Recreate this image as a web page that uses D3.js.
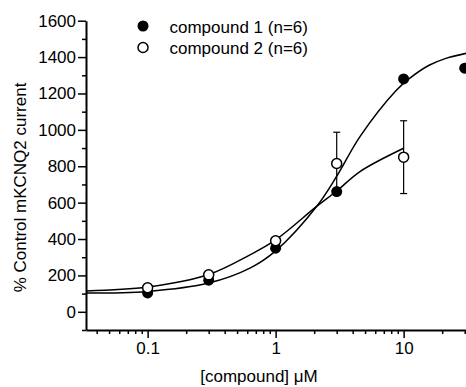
<!DOCTYPE html>
<html>
<head>
<meta charset="utf-8">
<script src="https://cdn.jsdelivr.net/npm/d3@7"></script>
<style>
  body { margin: 0; background: #fff; }
  svg { display: block; font-family: "Liberation Sans", Arial, sans-serif; }
</style>
</head>
<body>
<div id="chart"></div>
<script>
// measured points
var concentrations = [0.1, 0.3, 1, 3, 10, 30];
var compound1 = [104, 174, 350, 661, 1280, 1339];
var compound2 = [132, 203, 390, 815, 850];
var compound2Sem = [14, 14, 18, 172, 200];

// fitted curves
var fitConc1 = [0.033, 0.1, 0.3, 0.63, 1, 2.09, 3, 4.56, 8.7, 11, 15.8, 21.4, 31];
var fitCurve1 = [103, 112, 158, 240, 335, 579, 745, 963, 1215, 1280, 1355, 1393, 1421];
var fitConc2 = [0.033, 0.1, 0.3, 0.63, 1, 2.09, 3, 4.56, 10];
var fitCurve2 = [115, 136, 205, 313, 395, 579, 664, 771, 899];

var xTicks = [0.1, 1, 10];
var xTickLabels = ["0.1", "1", "10"];
var yTicks = [0, 200, 400, 600, 800, 1000, 1200, 1400, 1600];
var yMinorTicks = [-100, 100, 300, 500, 700, 900, 1100, 1300, 1500];
var legendLabels = ["compound 1 (n=6)", "compound 2 (n=6)"];

var width = 466, height = 387;
var svg = d3.select("#chart").append("svg")
    .attr("width", width)
    .attr("height", height);

var x = d3.scaleLog().domain([0.033, 33]).range([86, 470]);
var y = d3.scaleLinear().domain([-100, 1600]).range([330, 20.7]);

// minor ticks first so the major ones sit on top
var xMinor = x.ticks().filter(function(d) { return xTicks.indexOf(d) < 0; });
svg.append("g")
    .attr("transform", "translate(0,330)")
    .call(d3.axisBottom(x).tickValues(xMinor).tickSize(4).tickSizeOuter(0).tickFormat(""))
    .call(function(g) { g.select(".domain").remove(); });
svg.append("g")
    .attr("transform", "translate(86,0)")
    .call(d3.axisLeft(y).tickValues(yMinorTicks).tickSize(4).tickSizeOuter(0).tickFormat(""))
    .call(function(g) { g.select(".domain").remove(); });

svg.append("g")
    .attr("transform", "translate(0,330)")
    .call(d3.axisBottom(x).tickValues(xTicks).tickSize(8).tickSizeOuter(0).tickPadding(4)
      .tickFormat(function(d, i) { return xTickLabels[i]; }));
svg.append("g")
    .attr("transform", "translate(86,0)")
    .call(d3.axisLeft(y).tickValues(yTicks).tickSize(8).tickSizeOuter(0).tickPadding(2)
      .tickFormat(d3.format("d")));

svg.selectAll(".tick line").attr("stroke", "#000").attr("stroke-width", 1.5);
svg.selectAll(".domain").attr("stroke", "#000").attr("stroke-width", 2);
svg.selectAll(".tick text").attr("fill", "#000").attr("font-size", 17)
    .attr("font-family", "'Liberation Sans', Arial, sans-serif");

// fitted curves
var line = d3.line()
    .x(function(d) { return x(d[0]); })
    .y(function(d) { return y(d[1]); })
    .curve(d3.curveCatmullRom.alpha(0.5));

svg.append("path")
    .datum(d3.zip(fitConc1, fitCurve1))
    .attr("d", line)
    .attr("fill", "none")
    .attr("stroke", "#000")
    .attr("stroke-width", 1.5);
svg.append("path")
    .datum(d3.zip(fitConc2, fitCurve2))
    .attr("d", line)
    .attr("fill", "none")
    .attr("stroke", "#000")
    .attr("stroke-width", 1.5);

// error bars for compound 2
var pts2 = compound2.map(function(v, i) { return { c: concentrations[i], v: v, s: compound2Sem[i] }; });
var err = svg.append("g").attr("stroke", "#000").attr("stroke-width", 1.2);
pts2.forEach(function(d) {
  var cx = x(d.c);
  err.append("line").attr("x1", cx).attr("x2", cx).attr("y1", y(d.v - d.s)).attr("y2", y(d.v + d.s));
  err.append("line").attr("x1", cx - 3.5).attr("x2", cx + 3.5).attr("y1", y(d.v + d.s)).attr("y2", y(d.v + d.s));
  err.append("line").attr("x1", cx - 3.5).attr("x2", cx + 3.5).attr("y1", y(d.v - d.s)).attr("y2", y(d.v - d.s));
});

// points
svg.selectAll(".p1")
    .data(compound1)
    .enter()
    .append("circle")
    .attr("class", "p1")
    .attr("cx", function(d, i) { return x(concentrations[i]); })
    .attr("cy", function(d) { return y(d); })
    .attr("r", 5.5)
    .attr("fill", "#000");

svg.selectAll(".p2")
    .data(compound2)
    .enter()
    .append("circle")
    .attr("class", "p2")
    .attr("cx", function(d, i) { return x(concentrations[i]); })
    .attr("cy", function(d) { return y(d); })
    .attr("r", 5)
    .attr("fill", "#fff")
    .attr("stroke", "#000")
    .attr("stroke-width", 1.5);

// legend
var legend = svg.append("g");
legendLabels.forEach(function(label, i) {
  var ly = 26 + i * 21.5;
  legend.append("circle")
      .attr("cx", 143).attr("cy", ly)
      .attr("r", i === 0 ? 5.5 : 5)
      .attr("fill", i === 0 ? "#000" : "#fff")
      .attr("stroke", "#000")
      .attr("stroke-width", i === 0 ? 0 : 1.5);
  legend.append("text")
      .attr("x", 169.5).attr("y", ly + 6.5)
      .attr("font-size", 17)
      .text(label);
});

// axis titles
svg.append("text")
    .attr("x", 259).attr("y", 382)
    .attr("text-anchor", "middle")
    .attr("font-size", 17)
    .text("[compound] \u03BCM");
svg.append("text")
    .attr("transform", "translate(26,187.5) rotate(-90)")
    .attr("text-anchor", "middle")
    .attr("font-size", 17)
    .text("% Control mKCNQ2 current");
</script>
</body>
</html>
